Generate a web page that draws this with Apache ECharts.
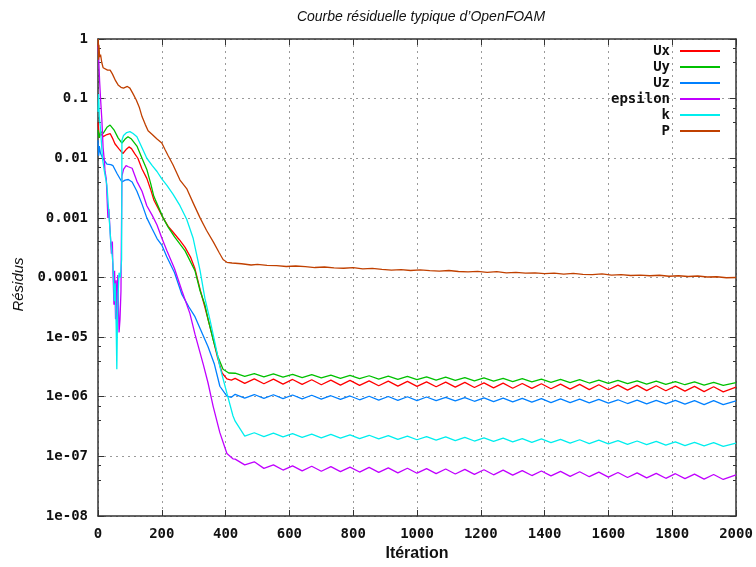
<!DOCTYPE html>
<html><head><meta charset="utf-8">
<script src="https://cdn.jsdelivr.net/npm/echarts@6.0.0/dist/echarts.min.js"></script>
<style>html,body{margin:0;padding:0;background:#fff}#c{width:756px;height:567px}</style>
</head><body><div id="c"></div>
<script>
const chartTitle = "Courbe résiduelle typique d’OpenFOAM";
const xName = "Itération";
const yName = "Résidus";
const seriesNames = ["Ux", "Uy", "Uz", "epsilon", "k", "P"];
const seriesColors = ["#ff0000", "#00c000", "#0080ff", "#c000ff", "#00eeee", "#c04000"];
const yTickLabels = ["1", "0.1", "0.01", "0.001", "0.0001", "1e-05", "1e-06", "1e-07", "1e-08"];

// iterations shared by the converged (oscillating) part of the curves
const tailIter = [430,460,490,520,550,580,610,640,670,700,730,760,790,820,850,880,910,940,970,1000,1030,1060,1090,1120,1150,1180,1210,1240,1270,1300,1330,1360,1390,1420,1450,1480,1510,1540,1570,1600,1630,1660,1690,1720,1750,1780,1810,1840,1870,1900,1930,1960,2000];

// early transient parts [iteration, residual]
const uxEarly = [[0,0.04],[2,0.03],[4,0.022],[8,0.026],[16,0.023],[28,0.025],[38,0.026],[45,0.022],[53,0.0175],[65,0.0145],[78,0.012],[88,0.014],[97,0.0155],[105,0.0145],[115,0.012],[125,0.01],[138,0.0066],[153,0.0046],[165,0.003],[175,0.002],[190,0.0014],[204,0.001],[220,0.00072],[235,0.00058],[255,0.00043],[273,0.00032],[290,0.00022],[304,0.00014],[320,0.000063],[335,0.000032],[357,0.0000112],[375,0.0000045],[389,0.0000025],[404,0.000002],[418,0.0000019]];
const uyEarly = [[0,0.03],[3,0.022],[8,0.028],[16,0.026],[28,0.033],[38,0.036],[50,0.03],[63,0.022],[75,0.018],[85,0.021],[94,0.023],[105,0.021],[122,0.016],[138,0.01],[153,0.0065],[165,0.0038],[175,0.0023],[190,0.0015],[204,0.001],[220,0.0007],[240,0.00048],[273,0.00028],[304,0.00013],[320,0.00006],[335,0.000035],[345,0.00002],[360,0.0000095],[376,0.0000047],[392,0.0000029],[410,0.0000025]];
const uzEarly = [[0,0.02],[2,0.011],[4,0.016],[8,0.012],[15,0.01],[28,0.008],[40,0.0078],[47,0.0075],[60,0.0055],[75,0.004],[85,0.0043],[95,0.0044],[107,0.004],[122,0.0028],[138,0.0017],[153,0.001],[170,0.00065],[185,0.00045],[200,0.00035],[216,0.00022],[240,0.00012],[263,0.000052],[285,0.000032],[304,0.000022],[320,0.000014],[345,0.0000069],[365,0.0000035],[382,0.0000015],[404,0.00000102],[418,0.00000098]];
const epsEarly = [[0,0.8],[2,0.5],[5,0.2],[8,0.1],[12,0.045],[16,0.015],[20,0.009],[22,0.006],[26,0.0045],[31,0.001],[34,0.0014],[38,0.0006],[42,0.00025],[45,0.0004],[47,0.00012],[50,0.000035],[52,0.00013],[55,0.00002],[57,0.00009],[59,0.000017],[62,0.00011],[66,0.000012],[69,0.00002],[72,0.00006],[75,0.005],[80,0.0065],[88,0.0075],[95,0.0072],[107,0.0068],[122,0.0041],[138,0.0028],[153,0.0016],[170,0.0011],[185,0.00076],[200,0.00046],[216,0.00028],[240,0.00014],[263,0.00006],[288,0.000025],[304,0.0000112],[330,0.0000035],[345,0.0000017],[361,0.00000069],[382,0.00000025],[404,0.000000112],[423,0.000000091]];
const kEarly = [[0,0.06],[2,0.12],[4,0.05],[8,0.03],[14,0.01],[20,0.006],[28,0.0035],[34,0.0012],[40,0.0004],[47,0.00017],[51,0.00004],[54,0.00008],[57,0.000015],[59,0.0000029],[61,0.00002],[63,0.00005],[66,0.00012],[70,0.0001],[74,0.0002],[75,0.02],[80,0.024],[90,0.027],[100,0.028],[110,0.026],[122,0.023],[138,0.015],[153,0.01],[170,0.0075],[185,0.006],[200,0.0045],[216,0.0035],[235,0.0025],[257,0.0016],[278,0.00095],[298,0.00046],[320,0.00013],[335,0.000045],[351,0.0000195],[365,0.0000088],[382,0.0000032],[404,0.00000115],[423,0.00000048]];

// converged parts, one value per tailIter entry
const uxTail = [2.03e-6,1.68e-6,2.00e-6,1.65e-6,1.98e-6,1.63e-6,1.95e-6,1.61e-6,1.93e-6,1.59e-6,1.90e-6,1.57e-6,1.88e-6,1.55e-6,1.85e-6,1.53e-6,1.83e-6,1.51e-6,1.81e-6,1.49e-6,1.78e-6,1.47e-6,1.76e-6,1.45e-6,1.74e-6,1.43e-6,1.71e-6,1.41e-6,1.69e-6,1.39e-6,1.67e-6,1.38e-6,1.65e-6,1.36e-6,1.63e-6,1.34e-6,1.61e-6,1.32e-6,1.59e-6,1.31e-6,1.57e-6,1.29e-6,1.55e-6,1.27e-6,1.53e-6,1.26e-6,1.51e-6,1.24e-6,1.49e-6,1.22e-6,1.47e-6,1.21e-6,1.45e-6];
const uyTail = [2.48e-6,2.19e-6,2.45e-6,2.16e-6,2.41e-6,2.13e-6,2.38e-6,2.10e-6,2.35e-6,2.07e-6,2.31e-6,2.04e-6,2.28e-6,2.01e-6,2.25e-6,1.98e-6,2.22e-6,1.96e-6,2.19e-6,1.93e-6,2.16e-6,1.90e-6,2.13e-6,1.88e-6,2.10e-6,1.85e-6,2.07e-6,1.83e-6,2.04e-6,1.80e-6,2.01e-6,1.78e-6,1.98e-6,1.75e-6,1.96e-6,1.73e-6,1.93e-6,1.70e-6,1.90e-6,1.68e-6,1.88e-6,1.66e-6,1.85e-6,1.63e-6,1.83e-6,1.61e-6,1.80e-6,1.59e-6,1.78e-6,1.57e-6,1.75e-6,1.55e-6,1.73e-6];
const uzTail = [1.10e-6,0.95e-6,1.09e-6,0.94e-6,1.08e-6,0.93e-6,1.07e-6,0.92e-6,1.06e-6,0.91e-6,1.04e-6,0.90e-6,1.03e-6,0.89e-6,1.02e-6,0.88e-6,1.01e-6,0.87e-6,1.00e-6,0.86e-6,0.99e-6,0.86e-6,0.98e-6,0.85e-6,0.97e-6,0.84e-6,0.96e-6,0.83e-6,0.95e-6,0.82e-6,0.94e-6,0.81e-6,0.93e-6,0.80e-6,0.92e-6,0.80e-6,0.91e-6,0.79e-6,0.90e-6,0.78e-6,0.89e-6,0.77e-6,0.88e-6,0.76e-6,0.87e-6,0.76e-6,0.87e-6,0.75e-6,0.86e-6,0.74e-6,0.86e-6,0.74e-6,0.85e-6];
const epsTail = [9.0e-8,7.2e-8,8.1e-8,6.3e-8,7.2e-8,5.9e-8,6.92e-8,5.71e-8,6.82e-8,5.63e-8,6.72e-8,5.54e-8,6.62e-8,5.46e-8,6.52e-8,5.38e-8,6.42e-8,5.30e-8,6.33e-8,5.22e-8,6.23e-8,5.14e-8,6.14e-8,5.06e-8,6.05e-8,4.99e-8,5.96e-8,4.91e-8,5.87e-8,4.84e-8,5.78e-8,4.77e-8,5.69e-8,4.70e-8,5.61e-8,4.63e-8,5.52e-8,4.56e-8,5.44e-8,4.49e-8,5.36e-8,4.42e-8,5.28e-8,4.36e-8,5.20e-8,4.29e-8,5.12e-8,4.23e-8,5.05e-8,4.16e-8,4.97e-8,4.10e-8,4.90e-8];
const kTail = [3.9e-7,2.19e-7,2.49e-7,2.15e-7,2.45e-7,2.12e-7,2.41e-7,2.09e-7,2.37e-7,2.05e-7,2.33e-7,2.02e-7,2.30e-7,1.99e-7,2.26e-7,1.96e-7,2.22e-7,1.93e-7,2.19e-7,1.90e-7,2.15e-7,1.87e-7,2.12e-7,1.84e-7,2.09e-7,1.81e-7,2.05e-7,1.78e-7,2.02e-7,1.75e-7,1.99e-7,1.72e-7,1.96e-7,1.70e-7,1.93e-7,1.67e-7,1.90e-7,1.64e-7,1.87e-7,1.62e-7,1.84e-7,1.59e-7,1.81e-7,1.57e-7,1.78e-7,1.54e-7,1.75e-7,1.52e-7,1.72e-7,1.50e-7,1.70e-7,1.47e-7,1.67e-7];

// pressure residual [iteration, residual]
const pSeries = [[0,0.75],[1,1.0],[2,0.45],[3,0.8],[5,0.5],[8,0.55],[12,0.4],[16,0.33],[22,0.32],[30,0.3],[38,0.3],[45,0.26],[55,0.2],[63,0.17],[72,0.155],[80,0.15],[85,0.14],[92,0.16],[100,0.15],[110,0.12],[120,0.095],[130,0.07],[138,0.05],[148,0.037],[157,0.029],[170,0.025],[185,0.021],[200,0.018],[210,0.014],[220,0.011],[235,0.0078],[257,0.0043],[278,0.0031],[300,0.0017],[320,0.001],[340,0.00062],[361,0.0004],[380,0.00026],[392,0.0002],[404,0.00018],[420,1.75e-4],[450,1.7e-4],[480,1.62e-4],[500,1.66e-4],[530,1.6e-4],[560,1.58e-4],[590,1.53e-4],[620,1.56e-4],[650,1.52e-4],[680,1.47e-4],[710,1.5e-4],[740,1.45e-4],[770,1.43e-4],[800,1.47e-4],[830,1.4e-4],[860,1.42e-4],[890,1.37e-4],[920,1.33e-4],[950,1.36e-4],[980,1.31e-4],[1010,1.34e-4],[1040,1.3e-4],[1070,1.28e-4],[1100,1.31e-4],[1130,1.26e-4],[1160,1.24e-4],[1190,1.27e-4],[1220,1.22e-4],[1250,1.25e-4],[1280,1.2e-4],[1310,1.22e-4],[1340,1.18e-4],[1370,1.2e-4],[1400,1.16e-4],[1430,1.18e-4],[1460,1.14e-4],[1490,1.17e-4],[1520,1.13e-4],[1550,1.12e-4],[1580,1.15e-4],[1610,1.1e-4],[1640,1.12e-4],[1670,1.08e-4],[1700,1.1e-4],[1730,1.07e-4],[1760,1.09e-4],[1790,1.05e-4],[1820,1.07e-4],[1850,1.04e-4],[1880,1.06e-4],[1910,1.02e-4],[1940,1.03e-4],[1970,0.99e-4],[2000,1.0e-4]];

function withTail(early, tail) {
  return early.concat(tailIter.map((it, i) => [it, tail[i]]));
}
const seriesData = [
  withTail(uxEarly, uxTail),
  withTail(uyEarly, uyTail),
  withTail(uzEarly, uzTail),
  withTail(epsEarly, epsTail),
  withTail(kEarly, kTail),
  pSeries
];

const monoFont = "'DejaVu Sans Mono', monospace";
const sansFont = "'Liberation Sans', Arial, sans-serif";
const axisColor = "#333";
const gridLine = { show: true, lineStyle: { color: "#9a9a9a", type: [2, 4], width: 1 } };
const labelStyle = { fontFamily: monoFont, fontWeight: "bold", fontSize: 14, color: "#111" };
const yLabelFmt = v => yTickLabels[Math.round(-Math.log10(v))] ?? "";
const xLabelFmt = v => String(v);

const chart = echarts.init(document.getElementById("c"), null, { renderer: "canvas" });
chart.setOption({
  animation: false,
  backgroundColor: "#fff",
  title: {
    text: chartTitle, left: 416, top: 5, textAlign: "center",
    textStyle: { fontFamily: sansFont, fontStyle: "italic", fontWeight: "normal", fontSize: 14, color: "#111" }
  },
  grid: { left: 98, right: 20, top: 39, bottom: 46, containLabel: false },
  legend: {
    orient: "vertical", right: 31, top: 39, align: "right",
    icon: "rect", itemWidth: 40, itemHeight: 2, itemGap: 2,
    data: seriesNames,
    textStyle: { fontFamily: monoFont, fontWeight: "bold", fontSize: 14, color: "#111", lineHeight: 14, padding: [0, 5, 0, 0] }
  },
  xAxis: [{
    type: "value", min: 0, max: 2000, interval: 200, position: "bottom",
    name: xName, nameLocation: "middle", nameGap: 30,
    nameTextStyle: { fontFamily: sansFont, fontWeight: "bold", fontSize: 16, color: "#111" },
    axisLine: { show: true, onZero: false, lineStyle: { color: axisColor, width: 1.5 } },
    axisTick: { show: true, inside: true, length: 6, lineStyle: { color: axisColor } },
    axisLabel: Object.assign({ margin: 11, formatter: xLabelFmt }, labelStyle),
    splitLine: gridLine
  }, {
    type: "value", min: 0, max: 2000, interval: 200, position: "top",
    axisLine: { show: true, onZero: false, lineStyle: { color: axisColor, width: 1.5 } },
    axisTick: { show: true, inside: true, length: 6, lineStyle: { color: axisColor } },
    axisLabel: { show: false }, splitLine: { show: false }
  }],
  yAxis: [{
    type: "log", logBase: 10, min: 1e-8, max: 1, splitNumber: 8, position: "left",
    name: yName, nameLocation: "middle", nameGap: 70,
    nameTextStyle: { fontFamily: sansFont, fontStyle: "italic", fontSize: 15, color: "#111", padding: [0, 14, 0, 0] },
    axisLine: { show: true, onZero: false, lineStyle: { color: axisColor, width: 1.5 } },
    axisTick: { show: true, inside: true, length: 6, lineStyle: { color: axisColor } },
    minorTick: { show: true, splitNumber: 3, length: 3, lineStyle: { color: axisColor } },
    axisLabel: Object.assign({ margin: 10, formatter: yLabelFmt }, labelStyle),
    splitLine: gridLine
  }, {
    type: "log", logBase: 10, min: 1e-8, max: 1, splitNumber: 8, position: "right",
    axisLine: { show: true, onZero: false, lineStyle: { color: axisColor, width: 1.5 } },
    axisTick: { show: true, inside: true, length: 6, lineStyle: { color: axisColor } },
    minorTick: { show: true, splitNumber: 3, length: 3, lineStyle: { color: axisColor } },
    axisLabel: { show: false }, splitLine: { show: false }
  }],
  series: seriesNames.map((name, i) => ({
    name, type: "line", xAxisIndex: 0, yAxisIndex: 0,
    data: seriesData[i], showSymbol: false, symbol: "none",
    color: seriesColors[i],
    lineStyle: { color: seriesColors[i], width: 1.3 },
    emphasis: { disabled: true }
  }))
});
</script></body></html>
